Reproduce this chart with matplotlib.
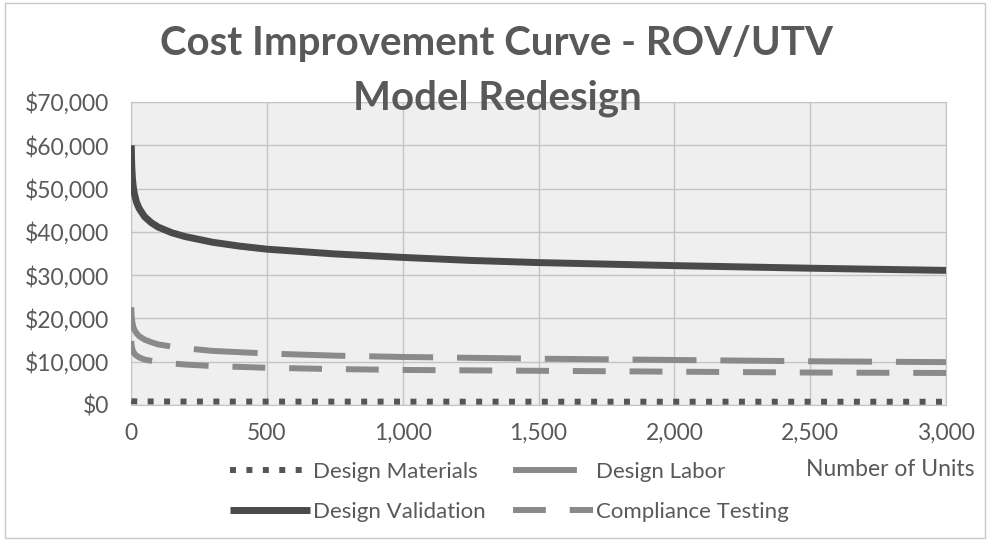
import matplotlib
matplotlib.use("Agg")
import matplotlib.pyplot as plt
from matplotlib.ticker import FuncFormatter, MultipleLocator
from matplotlib.patches import Rectangle

# ---- data ----
units = [1, 2, 3, 5, 8, 12, 20, 30, 50, 75, 100, 150, 200, 300, 400, 500,
         750, 1000, 1250, 1500, 2000, 2500, 3000]
design_materials = [900, 890, 880, 870, 860, 850, 840, 830, 820, 815, 810, 805,
                    800, 795, 790, 785, 780, 775, 770, 765, 760, 755, 750]
design_labor = [22600, 21000, 20200, 19100, 18200, 17400, 16600, 15900, 15100,
                14500, 14000, 13500, 13100, 12500, 12200, 11900, 11400, 11100,
                10900, 10700, 10400, 10100, 9900]
design_validation = [60000, 56700, 54800, 52600, 50600, 48900, 46900, 45400,
                     43500, 42100, 41100, 39800, 38900, 37600, 36700, 36000,
                     34900, 34100, 33400, 32900, 32200, 31600, 31100]
compliance_testing = [14800, 13900, 13500, 12900, 12400, 11900, 11400, 11000,
                      10500, 10200, 9900, 9600, 9350, 9000, 8800, 8600, 8300,
                      8100, 8000, 7900, 7700, 7500, 7400]

title_line1 = "Cost Improvement Curve - ROV/UTV"
title_line2 = "Model Redesign"
x_label = "Number of Units"

plt.rcParams['font.family'] = ['Lato', 'DejaVu Sans']
txt = '#595959'

fig = plt.figure(figsize=(9.9, 5.41), dpi=100)
fig.patch.set_facecolor('white')
ax = fig.add_axes([131/990, 1-405/541, (946-131)/990, (405-102)/541])
ax.set_facecolor('#efefef')

l_mat, = ax.plot(units, design_materials, color='#555555', lw=4.3,
                 linestyle=(0, (1, 1.75)), solid_capstyle='butt', dash_capstyle='butt',
                 label='Design Materials', zorder=3)
l_lab, = ax.plot(units, design_labor, color='#8a8a8a', lw=4.3,
                 linestyle=(0, (10.7, 4)), dash_capstyle='butt',
                 label='Design Labor', zorder=3)
l_val, = ax.plot(units, design_validation, color='#4a4a4a', lw=5,
                 solid_capstyle='butt', label='Design Validation', zorder=3)
l_cmp, = ax.plot(units, compliance_testing, color='#8a8a8a', lw=4.3,
                 linestyle=(0, (5.5, 4)), dash_capstyle='butt',
                 label='Compliance Testing', zorder=3)

ax.set_xlim(0, 3000)
ax.set_ylim(0, 70000)
ax.xaxis.set_major_locator(MultipleLocator(500))
ax.yaxis.set_major_locator(MultipleLocator(10000))
ax.xaxis.set_major_formatter(FuncFormatter(lambda v, p: f"{int(v):,}"))
ax.yaxis.set_major_formatter(FuncFormatter(lambda v, p: f"${int(v):,}"))
ax.grid(True, color='#c4c4c4', lw=1)
ax.set_axisbelow(True)
for s in ax.spines.values():
    s.set_color('#c4c4c4')
ax.tick_params(length=0, labelsize=16.5, colors=txt)
ax.tick_params(axis='y', pad=16)
ax.tick_params(axis='x', pad=13)

fig.text(497/990, 1-44/541, title_line1, ha='center', va='center',
         fontsize=29, fontweight='bold', color=txt)
fig.text(497/990, 1-98/541, title_line2, ha='center', va='center',
         fontsize=29, fontweight='bold', color=txt)

fig.text(974/990, 1-470/541, x_label, ha='right', va='center', fontsize=16.5, color=txt)

leg = fig.legend([l_mat, l_val, l_lab, l_cmp],
                 ['Design Materials', 'Design Validation', 'Design Labor', 'Compliance Testing'],
                 ncol=2, loc='upper left', bbox_to_anchor=(230/990, 1-462/541),
                 frameon=False, fontsize=16, handlelength=3.6, handletextpad=0.15,
                 columnspacing=1.2, labelspacing=0.9, borderpad=0, borderaxespad=0)
for t in leg.get_texts():
    t.set_color(txt)

fig.patches.append(Rectangle((5/990, 3/541), 980/990, 535/541, transform=fig.transFigure,
                             fill=False, edgecolor='#c8c8c8', lw=1))

fig.savefig('out.png', dpi=100)
